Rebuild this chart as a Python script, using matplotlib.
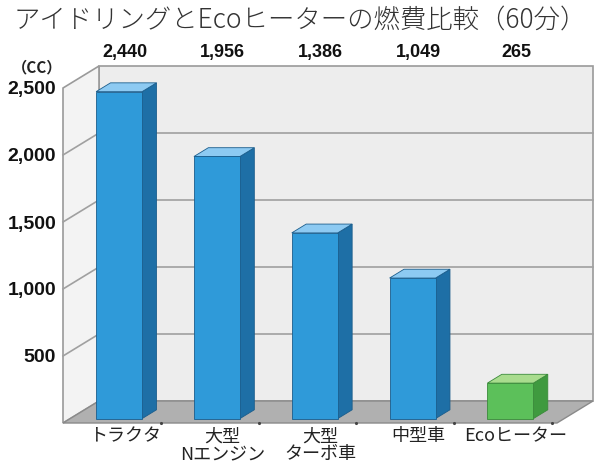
import numpy as np
import matplotlib.pyplot as plt
from matplotlib.patches import Polygon
from matplotlib.transforms import blended_transform_factory

categories = ['トラクタ', '大型\nNエンジン', '大型\nターボ車', '中型車', 'Ecoヒーター']
values = [2440, 1956, 1386, 1049, 265]
y_ticks = [500, 1000, 1500, 2000, 2500]
title = 'アイドリングとEcoヒーターの燃費比較（60分）'
unit = '（CC）'

front_col = ['#2f9ad9'] * 4 + ['#5cc05a']
side_col = ['#1e6fa6'] * 4 + ['#3f9a3f']
top_col = ['#8dcaf2'] * 4 + ['#a9dc8e']
edge_col = ['#1b5d8c'] * 4 + ['#3a8a3a']

jp = ['Noto Sans CJK JP', 'DejaVu Sans']
num = 'Liberation Sans'

W, H = 600, 469
fig = plt.figure(figsize=(6, 4.69), dpi=100)
# axes = front plane of the box (px: x 63..557, y 88..423 from top)
ax = fig.add_axes([63 / W, (H - 423) / H, (557 - 63) / W, (423 - 88) / H])
x0, x1 = -0.5, 4.55
ymax = 2500
ax.set_xlim(x0, x1)
ax.set_ylim(0, ymax)
for s in ax.spines.values():
    s.set_visible(False)
ax.patch.set_visible(False)

# depth offset of the back wall in data units
px_x = (x1 - x0) / (557 - 63)
px_y = ymax / (423 - 88)
dx, dy = 36 * px_x, 22 * px_y

def poly(pts, fc, ec='none', lw=0.8, z=1):
    ax.add_patch(Polygon(pts, closed=True, facecolor=fc, edgecolor=ec,
                         linewidth=lw, zorder=z, clip_on=False))

wall = '#ededed'
wall_edge = '#9a9a9a'
# back wall
poly([(x0 + dx, dy), (x1 + dx, dy), (x1 + dx, ymax + dy), (x0 + dx, ymax + dy)],
     wall, wall_edge, 1.2)
# left wall
poly([(x0, 0), (x0 + dx, dy), (x0 + dx, ymax + dy), (x0, ymax)],
     '#f3f3f3', wall_edge, 1.2)
# floor
poly([(x0, 0), (x1, 0), (x1 + dx, dy), (x0 + dx, dy)], '#b0b0b0', '#8a8a8a', 1.0, 2)

for v in y_ticks[:-1]:
    ax.plot([x0, x0 + dx, x1 + dx], [v, v + dy, v + dy], color='#a0a0a0',
            lw=1.2, zorder=1.5, clip_on=False)

# small ticks on the front floor edge
for k in range(len(categories)):
    ax.plot([k + 0.5], [0], marker='.', ms=2.5, color='#444444', zorder=3, clip_on=False)

# bars
w = 0.47
f0, f1 = 0.2, 0.6
for i, v in enumerate(values):
    lx = i - w / 2 + f0 * dx
    rx = lx + w
    by = f0 * dy
    ddx, ddy = (f1 - f0) * dx, (f1 - f0) * dy
    poly([(rx, by), (rx + ddx, by + ddy), (rx + ddx, by + ddy + v), (rx, by + v)],
         side_col[i], edge_col[i], 0.6, 4)
    poly([(lx, by + v), (rx, by + v), (rx + ddx, by + ddy + v), (lx + ddx, by + ddy + v)],
         top_col[i], edge_col[i], 0.6, 4)
    poly([(lx, by), (rx, by), (rx, by + v), (lx, by + v)],
         front_col[i], edge_col[i], 0.6, 5)

off = 0.13
xs = np.arange(len(categories)) + off
tr = blended_transform_factory(ax.transData, ax.transAxes)
for x, v in zip(xs, values):
    ax.text(x, (423 - 53) / (423 - 88), f'{v:,}', transform=tr, ha='center', va='center',
            fontsize=13, fontweight='bold', family=num, color='#111111')

ax.set_xticks(xs)
ax.set_xticklabels(categories, family=jp, fontsize=13, linespacing=1.0, color='#222222')
ax.tick_params(axis='x', length=0, pad=3)
ax.set_yticks(y_ticks)
ax.set_yticklabels([f'{v:,}' for v in y_ticks], family=num, fontweight='bold',
                   fontsize=14, color='#111111')
ax.tick_params(axis='y', length=0, pad=5)

ax.text((37 - 63) / (557 - 63), (423 - 67) / (423 - 88), unit, transform=ax.transAxes,
        ha='center', va='center', family=jp, fontsize=11, fontweight='bold', color='#222222')

fig.text(0.5, 1 - 20 / H, title, ha='center', va='center', family=jp,
         fontsize=19, fontweight='light', color='#333333')

fig.savefig('out.png', dpi=100)
